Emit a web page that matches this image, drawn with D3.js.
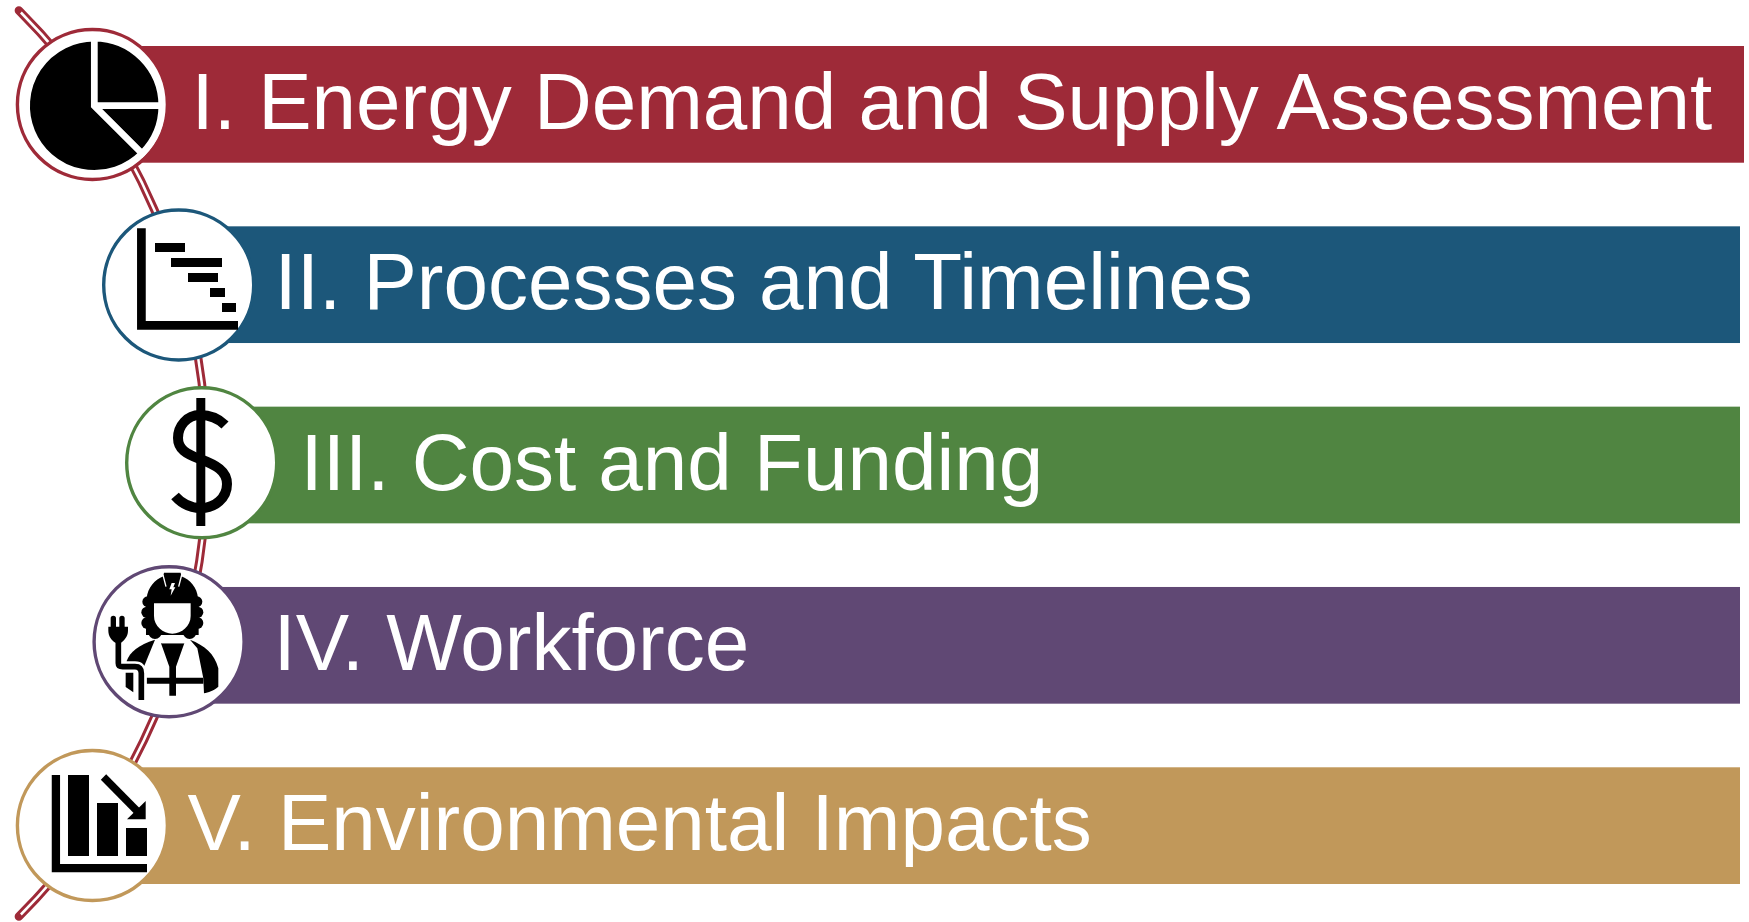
<!DOCTYPE html>
<meta charset="utf-8">
<style>
html, body { margin: 0; background: #fff; }
svg { display: block; }
.labels text { font: 80px "Liberation Sans", Arial, sans-serif; fill: #fff; }
</style>
<svg width="1749" height="922"></svg>
<script src="https://d3js.org/d3.v7.min.js"></script>
<script>

// the five steps, top to bottom
var stages = ["I. Energy Demand and Supply Assessment", "II. Processes and Timelines", "III. Cost and Funding", "IV. Workforce", "V. Environmental Impacts"]
var stageColours = ["#9e2a38", "#1c577a", "#508541", "#604874", "#c1985a"]

// where each step sits
var circleCentres = [92.4, 178.7, 201.7, 169.1, 92.4]
var circleRows = [104.5, 285, 462.7, 641.7, 825.5]
var barEnds = [1744, 1740, 1740, 1740, 1740]
var textStarts = [191.5, 274.5, 300.5, 273.5, 187.5]

// icon contents
var pieShares = [25, 12.5, 62.5]
var ganttStarts = [0, 16, 33, 55, 67]
var ganttLengths = [30, 51, 30, 15, 14]
var declineBars = [81, 53, 28]

var svg = d3.select("svg")

var rowScale = d3.scaleBand().domain(stages).range([46, 884]).paddingInner(0.3528).paddingOuter(0)
var colour = d3.scaleOrdinal(stages, stageColours)
var circleX = d3.scaleOrdinal(stages, circleCentres)
var circleY = d3.scaleOrdinal(stages, circleRows)
var barEnd = d3.scaleOrdinal(stages, barEnds)
var textX = d3.scaleOrdinal(stages, textStarts)

// the long double line behind everything
var arcCentre = [-433.2, 463.5], arcRadius = 640
function spine(maxAngle) {
	var p = d3.path()
	p.arc(arcCentre[0], arcCentre[1], arcRadius, -maxAngle, maxAngle)
	return p.toString()
}
svg.append("path").attr("d", spine(Math.asin(453 / arcRadius)))
	.attr("fill", "none").attr("stroke", "#9e2a38").attr("stroke-width", 8.5).attr("stroke-linecap", "round")
svg.append("path").attr("d", spine(Math.asin(451 / arcRadius)))
	.attr("fill", "none").attr("stroke", "#fff").attr("stroke-width", 2.5)

// bars
svg.append("g").selectAll("rect")
	.data(stages)
	.join("rect")
	.attr("x", function (d) { return circleX(d) })
	.attr("y", function (d) { return rowScale(d) })
	.attr("width", function (d) { return barEnd(d) - circleX(d) })
	.attr("height", rowScale.bandwidth())
	.attr("fill", function (d) { return colour(d) })

// circles
svg.append("g").selectAll("circle")
	.data(stages)
	.join("circle")
	.attr("cx", function (d) { return circleX(d) })
	.attr("cy", function (d) { return circleY(d) })
	.attr("r", 75)
	.attr("fill", "#fff")
	.attr("stroke", function (d) { return colour(d) })
	.attr("stroke-width", 3.4)

// labels
svg.append("g").attr("class", "labels").selectAll("text")
	.data(stages)
	.join("text")
	.attr("x", function (d) { return textX(d) })
	.attr("y", function (d) { return rowScale(d) + 83 })
	.text(function (d) { return d })

/*********************** Icons *************************/

// I. pie
var pieLayout = d3.pie().sort(null)
var pieArc = d3.arc().innerRadius(0).outerRadius(67.5)
svg.append("g").attr("transform", "translate(94.2,105.8)")
	.selectAll("path")
	.data(pieLayout(pieShares))
	.join("path")
	.attr("d", pieArc)
	.attr("fill", "#000")
	.attr("stroke", "#fff")
	.attr("stroke-width", 6.5)

// II. gantt
var ganttX = d3.scaleLinear().domain([0, 83]).range([155, 238])
var ganttY = d3.scaleBand().domain(d3.range(ganttStarts.length)).range([243, 312]).paddingInner(0.4).paddingOuter(0)
var gantt = svg.append("g")
gantt.selectAll("rect")
	.data(ganttStarts)
	.join("rect")
	.attr("x", function (d) { return ganttX(d) })
	.attr("y", function (d, i) { return ganttY(i) })
	.attr("width", function (d, i) { return ganttX(d + ganttLengths[i]) - ganttX(d) })
	.attr("height", ganttY.bandwidth())
gantt.append("path").attr("d", "M141.4,228.3V325.4H238").attr("fill", "none").attr("stroke", "#000").attr("stroke-width", 8.7)

// III. dollar
var dollar = svg.append("g").attr("fill", "none").attr("stroke", "#000")
dollar.append("path").attr("d", "M200.8,398V526").attr("stroke-width", 9)
dollar.append("path").attr("stroke-width", 10)
	.attr("d", "M225,425C218,418 209,415 200,415C187,415 178,426 178,438C178,449 186,454 200,459C216,465 227,471 227,484C227,498 215,508 201,508C190,508 182,504 175,496")

// IV. worker, drawn at 3x and shrunk
var worker = svg.append("g").attr("transform", "translate(80,555) scale(0.3333)")
// shoulders and sleeves
worker.append("path").attr("d", "M140,318C150,290 175,270 225,254L190,340L140,340Z")
worker.append("path").attr("d", "M330,254C375,272 403,295 415,340V395C400,408 385,412 372,415L370,370L352,280Z")
worker.append("path").attr("d", "M137,353H160V412L137,396Z")
// V of the vest with belt
worker.append("path").attr("d", "M243,265H313L288,335V422H268V335Z")
worker.append("path").attr("d", "M200,368H370V386H200Z")
// hair
worker.append("g").selectAll("circle")
	.data([[203, 140, 16], [201, 172, 17], [202, 204, 18], [225, 232, 20], [351, 140, 16], [353, 172, 17], [352, 204, 18], [329, 232, 20]])
	.join("circle")
	.attr("cx", function (d) { return d[0] }).attr("cy", function (d) { return d[1] }).attr("r", function (d) { return d[2] })
worker.append("path").attr("d", "M198,128H356V240H198Z")
// helmet
worker.append("path").attr("d", "M200,130C203,98 225,74 250,64L252,53H302L304,64C330,74 352,98 354,130Z")
worker.append("path").attr("d", "M249,60L258,95M305,60L296,95").attr("stroke", "#fff").attr("stroke-width", 4).attr("fill", "none")
worker.append("path").attr("d", "M275,84H285L280,97H286L272,122L275,103H268Z").attr("fill", "#fff")
// face and collar
worker.append("path").attr("d", "M222,145H332V183C332,213 305,236 277,236C249,236 222,213 222,183Z").attr("fill", "#fff")
worker.append("path").attr("d", "M245,252C255,262 300,262 312,252L312,265H245Z").attr("fill", "#fff")
// plug and cord
worker.append("path").attr("d", "M115,255V325Q115,335 128,335H165Q184,335 184,355V435").attr("fill", "none").attr("stroke", "#fff").attr("stroke-width", 32)
worker.append("path").attr("d", "M115,255V325Q115,335 128,335H165Q184,335 184,355V435").attr("fill", "none").attr("stroke", "#000").attr("stroke-width", 17)
worker.append("path").attr("d", "M92,190Q92,182 100,182Q108,182 108,190V215H118V190Q118,182 126,182Q134,182 134,190V215H144V227C144,245 131,258 123,263H106C94,256 85,242 85,227V215H92Z")

// V. falling bars
var declineX = d3.scaleBand().domain(d3.range(declineBars.length)).range([68, 147]).paddingInner(0.276).paddingOuter(0)
var declineY = d3.scaleLinear().domain([0, 81]).range([856, 775])
var decline = svg.append("g")
decline.selectAll("rect")
	.data(declineBars)
	.join("rect")
	.attr("x", function (d, i) { return declineX(i) })
	.attr("y", function (d) { return declineY(d) })
	.attr("width", declineX.bandwidth())
	.attr("height", function (d) { return declineY(0) - declineY(d) })
decline.append("path").attr("d", "M55.9,775V868.2H147").attr("fill", "none").attr("stroke", "#000").attr("stroke-width", 8.3)
decline.append("path").attr("d", "M103.5,777L140,814").attr("fill", "none").attr("stroke", "#000").attr("stroke-width", 7.5)
decline.append("path").attr("d", "M145.7,801V819.3H127Z")

</script>
